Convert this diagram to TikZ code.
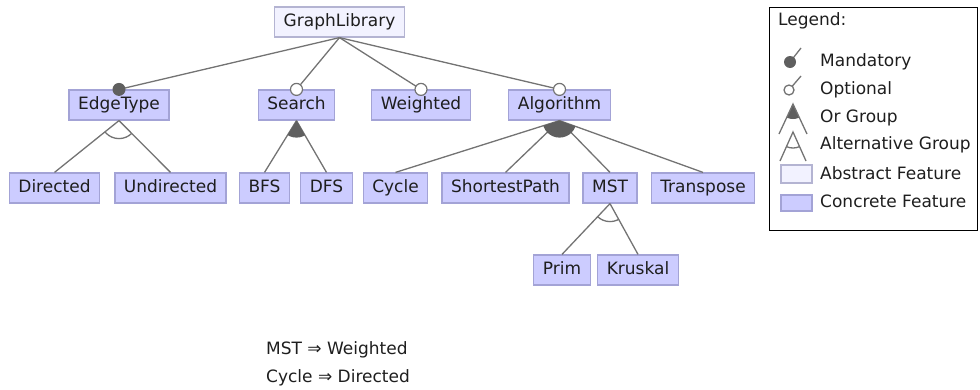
\documentclass[tikz,border=0pt]{standalone}
\usepackage{fontspec}
\setmainfont{DejaVu Sans}
\definecolor{concfill}{HTML}{CCCCFF}
\definecolor{concdraw}{HTML}{A3A3D6}
\definecolor{absfill}{HTML}{F2F2FF}
\definecolor{absdraw}{HTML}{B4B4D2}
\definecolor{linegray}{HTML}{737373}
\definecolor{dotgray}{HTML}{5F5F5F}
\definecolor{txt}{HTML}{1E1E1E}
\begin{document}
\begin{tikzpicture}[x=1pt, y=-1pt,
  feat/.style={draw=concdraw, fill=concfill, line width=1.2pt, minimum height=30pt,
    inner xsep=9pt, text height=12.5pt, text depth=3.5pt, font=\fontsize{17}{20}\selectfont, text=txt},
  abst/.style={feat, draw=absdraw, fill=absfill},
  conn/.style={draw=linegray, line width=1.3pt},
  mand/.style={circle, fill=dotgray, inner sep=0pt, minimum size=13pt},
  opt/.style={circle, draw=linegray, fill=white, line width=1.2pt, inner sep=0pt, minimum size=12pt},
  lbl/.style={anchor=west, inner sep=0pt, font=\fontsize{17}{20}\selectfont, text=txt}]
\useasboundingbox (0,0) rectangle (980,389);

% features
\node[abst] (root) at (339.5,22) {GraphLibrary};
\node[feat] (edgetype) at (119,105) {EdgeType};
\node[feat] (search) at (296.5,105) {Search};
\node[feat] (weighted) at (421,105) {Weighted};
\node[feat] (algo) at (559.5,105) {Algorithm};
\node[feat] (directed) at (54.5,188) {Directed};
\node[feat] (undirected) at (170.5,188) {Undirected};
\node[feat] (bfs) at (264.5,188) {BFS};
\node[feat] (dfs) at (326.5,188) {DFS};
\node[feat] (cycle) at (395.5,188) {Cycle};
\node[feat] (shortest) at (505.5,188) {ShortestPath};
\node[feat] (mst) at (610,188) {MST};
\node[feat] (transpose) at (703,188) {Transpose};
\node[feat] (prim) at (562,270) {Prim};
\node[feat] (kruskal) at (638,270) {Kruskal};

% connectors
\foreach \c in {edgetype,search,weighted,algo}
  \draw[conn] (root.south) -- (\c.north);
\foreach \c in {directed,undirected}
  \draw[conn] (edgetype.south) -- (\c.north);
\foreach \c in {bfs,dfs}
  \draw[conn] (search.south) -- (\c.north);
\foreach \c in {cycle,shortest,mst,transpose}
  \draw[conn] (algo.south) -- (\c.north);
\foreach \c in {prim,kruskal}
  \draw[conn] (mst.south) -- (\c.north);

% groups
\begin{scope}
  \clip (edgetype.south) -- (directed.north) -- (undirected.north) -- cycle;
  \draw[conn] (edgetype.south) circle (18);
\end{scope}
\begin{scope}
  \clip (mst.south) -- (prim.north) -- (kruskal.north) -- cycle;
  \draw[conn] (mst.south) circle (18);
\end{scope}
\begin{scope}
  \clip (search.south) -- (bfs.north) -- (dfs.north) -- cycle;
  \fill[dotgray] (search.south) circle (17);
\end{scope}
\begin{scope}
  \clip (algo.south) -- (cycle.north) -- (transpose.north) -- cycle;
  \fill[dotgray] (algo.south) circle (17);
\end{scope}

% mandatory / optional
\node[mand] at (edgetype.north) {};
\node[opt] at (search.north) {};
\node[opt] at (weighted.north) {};
\node[opt] at (algo.north) {};

% constraints
\node[lbl] (c1) at (266,350) {MST ⇒ Weighted};
\node[lbl] (c2) at (266,378) {Cycle ⇒ Directed};

% legend
\draw[line width=1pt] (769.5,7.5) rectangle (977.5,230);
\node[lbl] (lgd) at (778,21) {Legend:};
\node[lbl] (lmand) at (820,62) {Mandatory};
\node[lbl] (lopt) at (820,90) {Optional};
\node[lbl] (lor) at (820,118) {Or Group};
\node[lbl] (lalt) at (820,145) {Alternative Group};
\node[lbl] (labs) at (820,173) {Abstract Feature};
\node[lbl] (lconc) at (820,201) {Concrete Feature};

\draw[conn] (790,62) -- (801,48);
\fill[dotgray] (790,62) circle (6);
\draw[conn] (789,90) -- (801,76);
\draw[conn, fill=white] (789,90) circle (5);
\begin{scope}
  \clip (793,104) -- (779,134) -- (807,134) -- cycle;
  \fill[dotgray] (793,104) circle (15);
\end{scope}
\draw[conn] (779,134) -- (793,104) -- (807,134);
\draw[conn] (780,161) -- (793,132) -- (806,161);
\begin{scope}
  \clip (793,132) -- (780,161) -- (806,161) -- cycle;
  \draw[conn] (793,132) circle (16);
\end{scope}
\draw[draw=absdraw, fill=absfill, line width=1.2pt] (781,165) rectangle (812,183);
\draw[draw=concdraw, fill=concfill, line width=1.2pt] (781,195) rectangle (812,211);
\end{tikzpicture}
\end{document}
